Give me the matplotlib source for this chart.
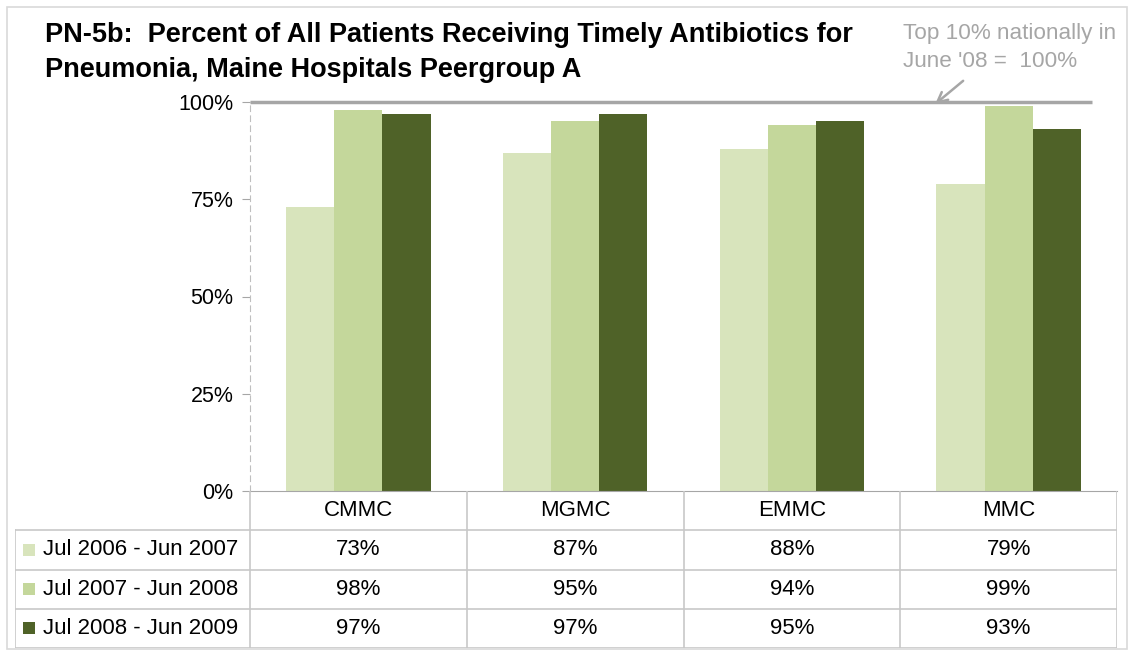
import matplotlib.pyplot as plt
import matplotlib.patches as mpatches
from matplotlib.lines import Line2D

plt.rcParams['font.family'] = ['Liberation Sans', 'DejaVu Sans']

hospitais = ['CMMC', 'MGMC', 'EMMC', 'MMC']
periodos = ['Jul 2006 - Jun 2007', 'Jul 2007 - Jun 2008', 'Jul 2008 - Jun 2009']
valores = [
    [73, 87, 88, 79],
    [98, 95, 94, 99],
    [97, 97, 95, 93],
]
cores = ['#d8e4bc', '#c4d79b', '#4f6228']
meta = 100

W, H = 1130, 650
fig = plt.figure(figsize=(W / 100, H / 100), dpi=100)

def px(x0, y0, x1, y1):
    # retangulo em pixels (origem no topo) -> coordenadas da figura
    return [x0 / W, 1 - y1 / H, (x1 - x0) / W, (y1 - y0) / H]

# borda externa
fig.patches.append(mpatches.Rectangle((7 / W, 1 - 649 / H), 1120 / W, 642 / H,
                                      transform=fig.transFigure, fill=False,
                                      edgecolor='#d9d9d9', linewidth=1.2))

ax = fig.add_axes(px(250, 102, 1117, 491))
largura = 0.222
for i, serie in enumerate(valores):
    pos = [k + (i - 1) * largura for k in range(len(hospitais))]
    ax.bar(pos, serie, width=largura, color=cores[i], linewidth=0)

ax.set_xlim(-0.5, 3.5)
ax.set_ylim(0, 100)
ax.set_yticks([0, 25, 50, 75, 100])
ax.set_yticklabels(['0%', '25%', '50%', '75%', '100%'], fontsize=15.5)
ax.set_xticks([])
for lado in ['top', 'right']:
    ax.spines[lado].set_visible(False)
ax.spines['left'].set_color('#bfbfbf')
ax.spines['left'].set_linestyle((0, (5, 4)))
ax.spines['bottom'].set_color('#a6a6a6')
ax.tick_params(axis='y', length=6, color='#a6a6a6', pad=6)

# linha da meta nacional
ax.plot([-0.5, 3.385], [meta, meta], color='#a6a6a6', linewidth=2.5,
        clip_on=False, solid_capstyle='butt')
ax.annotate('', xy=(2.651, 99), xytext=(2.80, 105.9),
            arrowprops=dict(arrowstyle='->', color='#a6a6a6', linewidth=1.8,
                            mutation_scale=18),
            annotation_clip=False)
fig.text(903 / W, 1 - 39 / H, 'Top 10% nationally in', fontsize=16.2,
         color='#a6a6a6', va='baseline', ha='left')
fig.text(903 / W, 1 - 67 / H, "June '08 =  100%", fontsize=16.2,
         color='#a6a6a6', va='baseline', ha='left')

fig.text(45 / W, 1 - 42 / H,
         'PN-5b:  Percent of All Patients Receiving Timely Antibiotics for',
         fontsize=19.5, fontweight='bold', va='baseline', ha='left')
fig.text(45 / W, 1 - 77 / H, 'Pneumonia, Maine Hospitals Peergroup A',
         fontsize=19.5, fontweight='bold', va='baseline', ha='left')

# tabela de dados
tab = fig.add_axes(px(15, 491, 1117, 648))
esq = -0.5 - 235 / 216.75
tab.set_xlim(esq, 3.5)
tab.set_ylim(4, 0)
tab.axis('off')
cinza = '#c8c8c8'
for r in [1, 2, 3, 4]:
    tab.add_line(Line2D([esq, 3.5], [r, r], color=cinza, linewidth=1.2))
tab.add_line(Line2D([esq, esq], [1, 4], color=cinza, linewidth=1.2))
for c in range(5):
    tab.add_line(Line2D([c - 0.5, c - 0.5], [0, 4], color=cinza, linewidth=1.2))

for k, nome in enumerate(hospitais):
    tab.text(k, 0.5, nome, ha='center', va='center', fontsize=16)
for i, serie in enumerate(valores):
    y = i + 1.5
    tab.add_patch(mpatches.Rectangle((esq + 0.037, y - 0.15), 0.055, 0.3,
                                     facecolor=cores[i], linewidth=0))
    tab.text(esq + 0.13, y, periodos[i], ha='left', va='center', fontsize=16)
    for k, v in enumerate(serie):
        tab.text(k, y, f'{v}%', ha='center', va='center', fontsize=16)

fig.savefig('out.png', dpi=100)
